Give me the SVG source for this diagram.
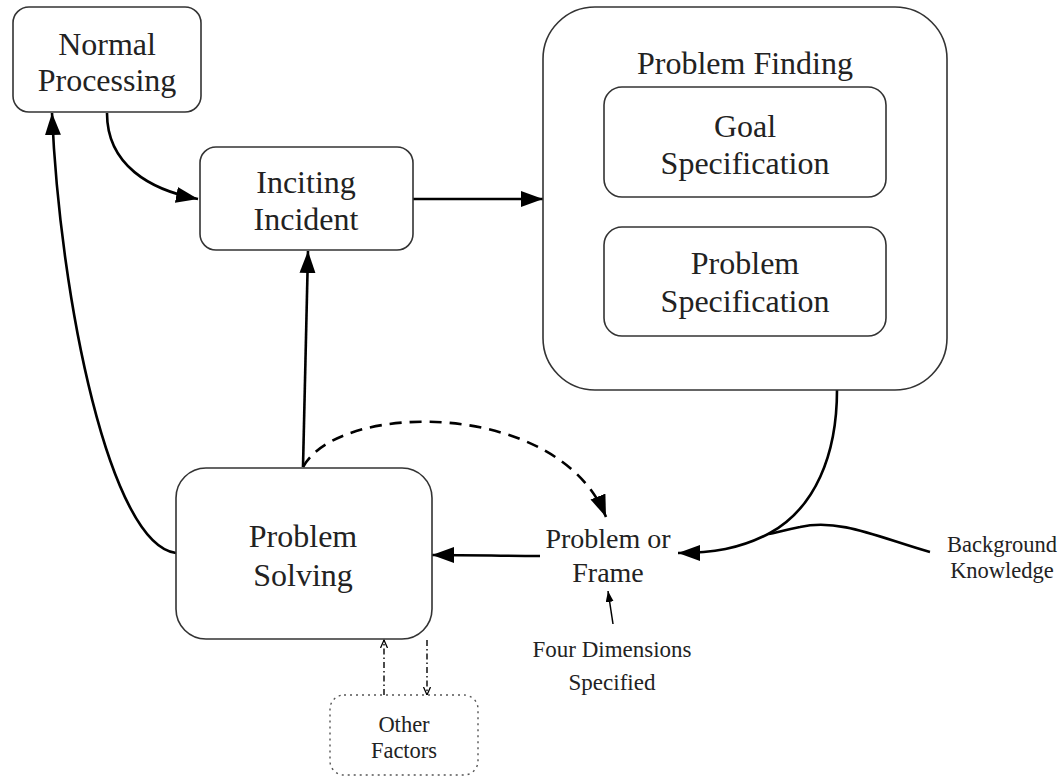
<svg xmlns="http://www.w3.org/2000/svg" width="1063" height="778" viewBox="0 0 1063 778">
<style>
.box{fill:#fff;stroke:#333;stroke-width:1.6}
.dot{fill:#fff;stroke:#555;stroke-width:1.4;stroke-dasharray:2 4}
.t{font-family:"Liberation Serif","Times New Roman",serif;fill:#222;text-anchor:middle}
.big{font-size:32px}
.mid{font-size:28px}
.sm{font-size:22.5px}
.xs{font-size:23px}
.c{fill:none;stroke:#000;stroke-width:2.6}
.dash{stroke-dasharray:12 8}
.dd{fill:none;stroke:#000;stroke-width:1.4;stroke-dasharray:6 3 1.5 3}
.thin{fill:none;stroke:#000;stroke-width:1.5}
</style>
<defs>
<marker id="ah" markerUnits="userSpaceOnUse" markerWidth="24" markerHeight="18" refX="22" refY="8" orient="auto">
<path d="M0,0 L22,8 L0,16 Z" fill="#000"/>
</marker>
<marker id="ao" markerUnits="userSpaceOnUse" markerWidth="10" markerHeight="10" refX="8" refY="4" orient="auto">
<path d="M0,0.5 L8,4 L0,7.5" fill="none" stroke="#000" stroke-width="1.3"/>
</marker>
<marker id="at" markerUnits="userSpaceOnUse" markerWidth="12" markerHeight="10" refX="11" refY="4" orient="auto">
<path d="M0,0 L11,4 L0,8 Z" fill="#000"/>
</marker>
</defs>
<g id="connectors">
<path class="c" d="M107,113 C107,165 150,190 198,199" marker-end="url(#ah)"/>
<path class="c" d="M413,199 L543,199" marker-end="url(#ah)"/>
<path class="c" d="M303,467 L308,251" marker-end="url(#ah)"/>
<path class="c" d="M176,553 C110,545 60,300 52,113" marker-end="url(#ah)"/>
<path class="c dash" d="M303,467 C340,400 560,400 606,517" marker-end="url(#ah)"/>
<path class="c" d="M540,556 C500,556 480,555 432,555" marker-end="url(#ah)"/>
<path class="c" d="M837,390 C837,455 815,508 770,533 C740,549 712,553 678,553" marker-end="url(#ah)"/>
<path class="c" d="M930,552 C880,538 840,518 800,527 C785,530 778,532 769,534"/>
<path class="thin" d="M613,624 L608,591" marker-end="url(#at)"/>
<path class="dd" d="M384,695 L384,640" marker-end="url(#ao)"/>
<path class="dd" d="M427,640 L427,695" marker-end="url(#ao)"/>
</g>
<g id="normal-processing">
<rect class="box" x="13" y="7" width="188" height="105" rx="16"/>
<text class="t big" x="107" y="55">Normal</text>
<text class="t big" x="107" y="91">Processing</text>
</g>
<g id="inciting-incident">
<rect class="box" x="200" y="147" width="213" height="103" rx="16"/>
<text class="t big" x="306" y="193">Inciting</text>
<text class="t big" x="306" y="230">Incident</text>
</g>
<g id="problem-finding">
<rect class="box" x="543" y="7" width="404" height="383" rx="52"/>
<text class="t big" x="745" y="74">Problem Finding</text>
</g>
<g id="goal-specification">
<rect class="box" x="604" y="87" width="282" height="110" rx="18"/>
<text class="t big" x="745" y="137">Goal</text>
<text class="t big" x="745" y="174">Specification</text>
</g>
<g id="problem-specification">
<rect class="box" x="604" y="227" width="282" height="109" rx="18"/>
<text class="t big" x="745" y="274">Problem</text>
<text class="t big" x="745" y="312">Specification</text>
</g>
<g id="problem-solving">
<rect class="box" x="176" y="468" width="256" height="171" rx="30"/>
<text class="t big" x="303" y="547">Problem</text>
<text class="t big" x="303" y="586">Solving</text>
</g>
<g id="problem-or-frame">
<text class="t mid" x="608" y="548">Problem or</text>
<text class="t mid" x="608" y="582">Frame</text>
</g>
<g id="background-knowledge">
<text class="t sm" x="1002" y="552">Background</text>
<text class="t sm" x="1002" y="578">Knowledge</text>
</g>
<g id="four-dimensions">
<text class="t xs" x="612" y="657">Four Dimensions</text>
<text class="t xs" x="612" y="690">Specified</text>
</g>
<g id="other-factors">
<rect class="dot" x="330" y="695" width="148" height="80" rx="14"/>
<text class="t sm" x="404" y="732">Other</text>
<text class="t sm" x="404" y="758">Factors</text>
</g>
</svg>
